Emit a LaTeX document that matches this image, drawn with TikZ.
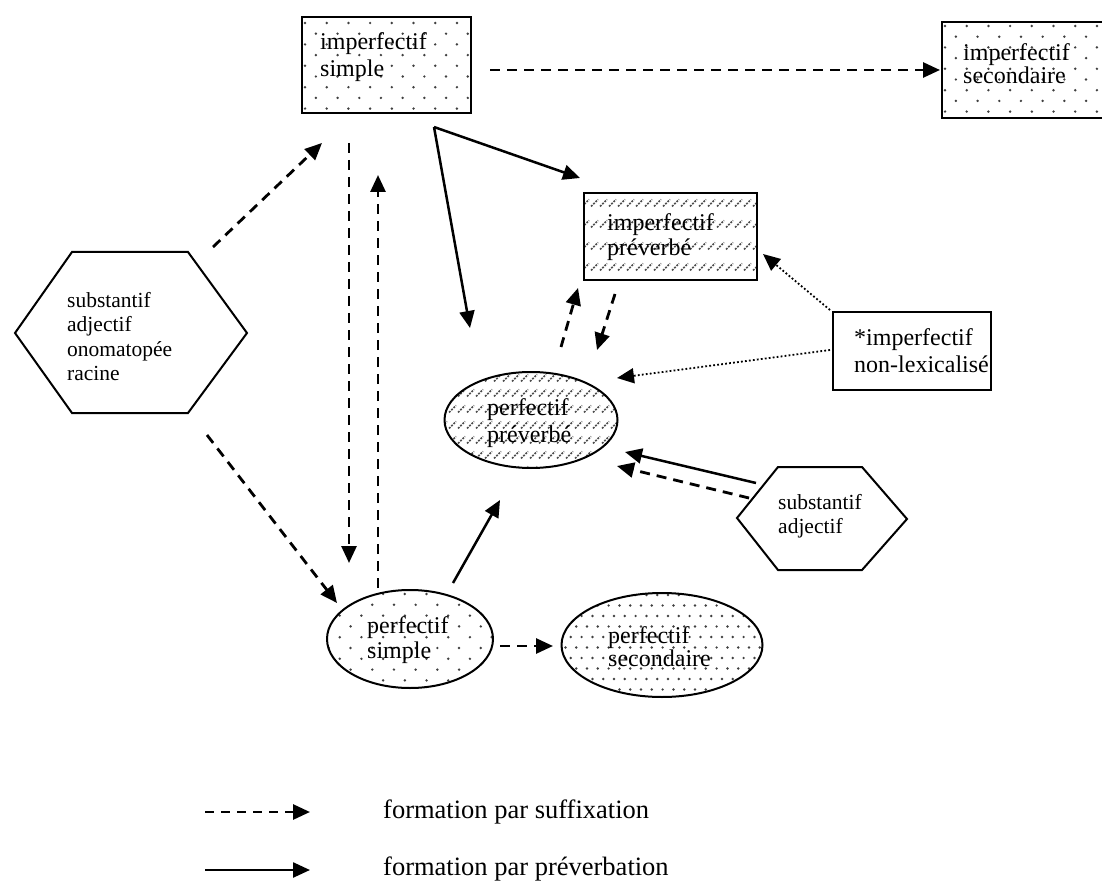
\documentclass[tikz,border=0pt]{standalone}
\usepackage{fontspec}
\setmainfont{Liberation Serif}
\usetikzlibrary{arrows.meta,shapes.geometric}
\newcommand\mydotgrid[6]{%
  \foreach \j in {0,...,#6}{\foreach \i in {0,...,#5}{%
    \fill[dotcol] ({#1+#3*\i+0.5*#3*mod(\j,2)},{#2+#4*\j}) circle[radius=1.35pt];}}}
\newcommand\myhatch[5]{%
  \foreach \yy in {#3}{\foreach \xx in {#1,#2,...,#4}{%
    \draw[hatchline] (\xx,\yy+3.5) -- ++(7,-7);}}}
\begin{document}
\begin{tikzpicture}[x=1pt,y=-1pt,
  dotcol/.style={fill=black!75},
  hatchline/.style={draw=black!70, line width=1.6pt, dash pattern=on 2pt off 1.2pt},
  shp/.style={draw, line width=2pt, inner sep=0pt},
  boxnode/.style={shp, rectangle},
  ellnode/.style={shp, ellipse},
  lbl/.style={anchor=west, align=left, inner sep=0pt, font=\fontsize{24}{27}\selectfont},
  hexlbl/.style={anchor=west, align=left, inner sep=0pt, font=\fontsize{21.5}{24.3}\selectfont},
  leglbl/.style={anchor=west, inner sep=0pt, font=\fontsize{26.5}{30}\selectfont},
  ahead/.style={-{Triangle[length=17pt,width=15pt]}},
  suf/.style={ahead, line width=2.8pt, dash pattern=on 10pt off 7pt},
  prev/.style={ahead, line width=2.5pt},
  dotarr/.style={ahead, line width=1.8pt, dash pattern=on 1.8pt off 2.2pt},
]
\path[use as bounding box] (0,0) rectangle (1102,882);

% ---------- fills ----------
\begin{scope}
  \clip (302,17) rectangle (471,113);
  \mydotgrid{305}{23}{21.7}{10.7}{8}{9}
\end{scope}
\begin{scope}
  \clip (942,22) rectangle (1112,118);
  \mydotgrid{945}{26}{21.7}{10.7}{8}{9}
\end{scope}
\begin{scope}
  \clip (410,639) ellipse [x radius=83pt, y radius=49pt];
  \mydotgrid{318}{594}{21.7}{10.8}{9}{9}
\end{scope}
\begin{scope}
  \clip (662,645) ellipse [x radius=100.5pt, y radius=52pt];
  \mydotgrid{560}{595}{10.8}{10.5}{19}{10}
\end{scope}
\begin{scope}
  \clip (584,193) rectangle (757,280);
  \myhatch{582}{591}{203,224,246,267}{760}{}
\end{scope}
\begin{scope}
  \clip (531,420) ellipse [x radius=86.5pt, y radius=48pt];
  \myhatch{440}{449}{378,393,409,425,440,455,470}{622}{}
\end{scope}

% ---------- shapes ----------
\node[boxnode, minimum width=169pt, minimum height=96pt] (impS) at (386.5,65) {};
\node[boxnode, minimum width=170pt, minimum height=96pt] (impSec) at (1027,70) {};
\node[boxnode, minimum width=173pt, minimum height=87pt] (impP) at (670.5,236.5) {};
\node[boxnode, minimum width=158pt, minimum height=78pt] (nonlex) at (912,351) {};
\node[ellnode, minimum width=173pt, minimum height=96pt] (perfP) at (531,420) {};
\node[ellnode, minimum width=166pt, minimum height=98pt] (perfS) at (410,639) {};
\node[ellnode, minimum width=201pt, minimum height=104pt] (perfSec) at (662,645) {};
\draw[line width=2pt, line join=miter] (72,252) -- (188,252) -- (247,333) -- (188,413) -- (72,413) -- (15,333) -- cycle;
\draw[line width=2pt, line join=miter] (778,467) -- (862,467) -- (907,519) -- (862,570) -- (778,570) -- (737,518) -- cycle;

% ---------- texts ----------
\node[lbl] (tImpS) at (320,57.5) {imperfectif\\simple};
\node[lbl, font=\fontsize{24}{23.5}\selectfont] (tImpSec) at (963,63.5) {imperfectif\\secondaire};
\node[lbl, font=\fontsize{24}{25}\selectfont] (tImpP) at (607,237) {imperfectif\\préverbé};
\node[lbl] (tNonlex) at (854,351) {*imperfectif\\non-lexicalisé};
\node[lbl] (tPerfP) at (487,423.5) {perfectif\\préverbé};
\node[lbl, font=\fontsize{24}{25}\selectfont] (tPerfS) at (367,640.5) {perfectif\\simple};
\node[lbl, font=\fontsize{24}{23.5}\selectfont] (tPerfSec) at (608,646.5) {perfectif\\secondaire};
\node[hexlbl] (hexA) at (67,336.5) {substantif\\adjectif\\onomatopée\\racine};
\node[hexlbl] (hexB) at (778,516.5) {substantif\\adjectif};

% ---------- connector end points ----------
\coordinate (a1) at (490,70);   \coordinate (a2) at (940,70);
\coordinate (b1) at (213,247);  \coordinate (b2) at (322,143);
\coordinate (c1) at (207,435);  \coordinate (c2) at (337,603);
\coordinate (d1) at (349,143);  \coordinate (d2) at (349,563);
\coordinate (e1) at (378,588);  \coordinate (e2) at (378,175);
\coordinate (f1) at (434,127);  \coordinate (f2) at (580,178);
\coordinate (g2) at (470,328);
\coordinate (h1) at (561,347);  \coordinate (h2) at (578,288);
\coordinate (i1) at (615,294);  \coordinate (i2) at (597,350);
\coordinate (j1) at (453,583);  \coordinate (j2) at (500,500);
\coordinate (k1) at (500,646);  \coordinate (k2) at (553,646);
\coordinate (l1) at (830,310);  \coordinate (l2) at (763,254);
\coordinate (m1) at (830,350);  \coordinate (m2) at (617,378);
\coordinate (n1) at (756,483);  \coordinate (n2) at (625,452);
\coordinate (o1) at (749,498);  \coordinate (o2) at (617,466);

% ---------- connectors ----------
\draw[suf] (a1) -- (a2);
\draw[suf] (b1) -- (b2);
\draw[suf] (c1) -- (c2);
\draw[suf] (d1) -- (d2);
\draw[suf] (e1) -- (e2);
\draw[prev] (f1) -- (f2);
\draw[prev] (f1) -- (g2);
\draw[suf] (h1) -- (h2);
\draw[suf] (i1) -- (i2);
\draw[prev] (j1) -- (j2);
\draw[suf] (k1) -- (k2);
\draw[dotarr] (l1) -- (l2);
\draw[dotarr] (m1) -- (m2);
\draw[prev] (n1) -- (n2);
\draw[suf] (o1) -- (o2);

% ---------- legend ----------
\coordinate (ls1) at (205,812); \coordinate (ls2) at (310,812);
\coordinate (lp1) at (205,870); \coordinate (lp2) at (310,870);
\draw[suf, dash pattern=on 9pt off 7pt] (ls1) -- (ls2);
\draw[prev] (lp1) -- (lp2);
\node[leglbl] (legS) at (383,812) {formation par suffixation};
\node[leglbl] (legP) at (383,869) {formation par préverbation};
\end{tikzpicture}
\end{document}
